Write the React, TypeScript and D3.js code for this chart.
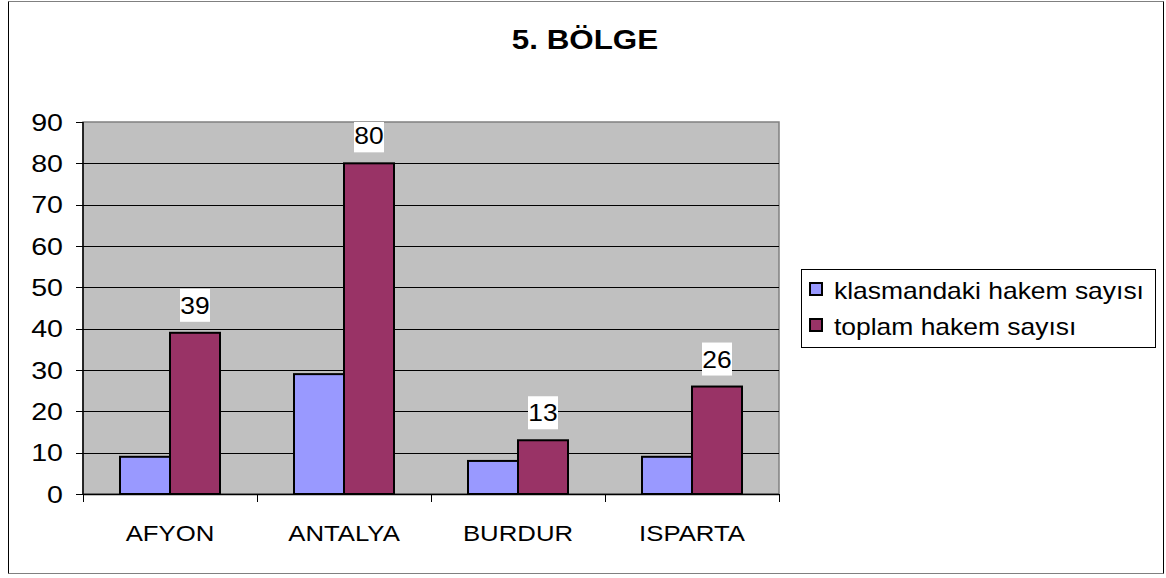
import React from "react";
import * as d3 from "d3";

const categories = ["AFYON", "ANTALYA", "BURDUR", "ISPARTA"];
const klasmandaki = [9, 29, 8, 9];
const toplam = [39, 80, 13, 26];
const yTicks = [0, 10, 20, 30, 40, 50, 60, 70, 80, 90];
const seriesNames = ["klasmandaki hakem sayısı", "toplam hakem sayısı"];
const seriesColors = ["#9999FF", "#993366"];
const title = "5. BÖLGE";

const W = 1166;
const H = 578;
const FONT = "'Liberation Sans', Arial, sans-serif";

function T(props: { x: number; y: number; anchor?: string; size: number; sx: number; bold?: boolean; children: React.ReactNode }) {
  return (
    <text
      transform={`translate(${props.x},${props.y}) scale(${props.sx},1)`}
      textAnchor={props.anchor || "start"}
      fontSize={props.size}
      fontWeight={props.bold ? "bold" : "normal"}
      fontFamily={FONT}
      fill="#000"
    >
      {props.children}
    </text>
  );
}

export default function App() {
  const left = 83, right = 779, top = 122, bottom = 494;
  const x = d3.scaleBand<string>().domain(categories).range([left, right]).paddingInner(0).paddingOuter(0);
  const y = d3.scaleLinear().domain([0, 90]).range([bottom, top]);
  const groupPad = 37;
  const inner = d3.scaleBand<number>().domain([0, 1]).range([0, x.bandwidth() - 2 * groupPad]);
  const series = [klasmandaki, toplam];

  return (
    <svg width={W} height={H} style={{ position: "absolute", left: 0, top: 0 }}>
      <rect x={0} y={0} width={W} height={H} fill="#fff" />
      {/* outer border */}
      <line x1={8.5} y1={1.5} x2={1163.5} y2={1.5} stroke="#808080" strokeWidth={1} />
      <line x1={8.5} y1={573.5} x2={1163.5} y2={573.5} stroke="#808080" strokeWidth={1} />
      <line x1={8.5} y1={1.5} x2={8.5} y2={573.5} stroke="#000" strokeWidth={1} />
      <line x1={1163.5} y1={1.5} x2={1163.5} y2={573.5} stroke="#000" strokeWidth={1} />

      <T x={585} y={49} anchor="middle" size={28} sx={1.12} bold>{title}</T>

      {/* plot area */}
      <rect x={left} y={top} width={right - left} height={bottom - top} fill="#C0C0C0" stroke="#808080" strokeWidth={1.5} />
      {yTicks.filter((t) => t > 0 && t < 90).map((t) => (
        <line key={t} x1={left} x2={right} y1={Math.round(y(t)) + 0.5} y2={Math.round(y(t)) + 0.5} stroke="#000" strokeWidth={1} />
      ))}

      {/* bars */}
      {categories.map((c, i) => (
        <g key={c}>
          {series.map((s, j) => (
            <rect
              key={j}
              x={(x(c) as number) + groupPad + (inner(j) as number)}
              y={y(s[i])}
              width={inner.bandwidth()}
              height={bottom - y(s[i])}
              fill={seriesColors[j]}
              stroke="#000"
              strokeWidth={2}
            />
          ))}
        </g>
      ))}

      {/* y axis */}
      <line x1={left} x2={left} y1={top} y2={bottom} stroke="#000" strokeWidth={1.5} />
      {yTicks.map((t) => (
        <g key={t}>
          <line x1={76} x2={left} y1={Math.round(y(t)) + 0.5} y2={Math.round(y(t)) + 0.5} stroke="#000" strokeWidth={1} />
          <T x={63} y={y(t) + 8.5} anchor="end" size={24} sx={1.19}>{t}</T>
        </g>
      ))}

      {/* x axis */}
      <line x1={left} x2={right} y1={bottom + 0.5} y2={bottom + 0.5} stroke="#000" strokeWidth={1.5} />
      {[...categories.map((c) => x(c) as number), right].map((v, i) => (
        <line key={i} x1={Math.round(v) + 0.5} x2={Math.round(v) + 0.5} y1={bottom} y2={bottom + 8} stroke="#000" strokeWidth={1} />
      ))}
      {categories.map((c) => (
        <T key={c} x={(x(c) as number) + x.bandwidth() / 2} y={541} anchor="middle" size={23} sx={1.12}>{c}</T>
      ))}

      {/* value labels */}
      {categories.map((c, i) => {
        const cx = (x(c) as number) + groupPad + (inner(1) as number) + inner.bandwidth() / 2;
        const by = y(toplam[i]) - 11;
        return (
          <g key={c}>
            <rect x={cx - 15} y={Math.max(by - 33, top)} width={30} height={by - Math.max(by - 33, top)} fill="#fff" />
            <T x={cx} y={by - 8} anchor="middle" size={24} sx={1.1}>{toplam[i]}</T>
          </g>
        );
      })}

      {/* legend */}
      <rect x={801.5} y={269.5} width={354} height={78} fill="#fff" stroke="#000" strokeWidth={1} />
      {seriesNames.map((n, j) => (
        <g key={n}>
          <rect x={810} y={283 + j * 36} width={12} height={12} fill={seriesColors[j]} stroke="#000" strokeWidth={2} />
          <T x={834} y={299 + j * 36} size={23} sx={1.15}>{n}</T>
        </g>
      ))}
    </svg>
  );
}
